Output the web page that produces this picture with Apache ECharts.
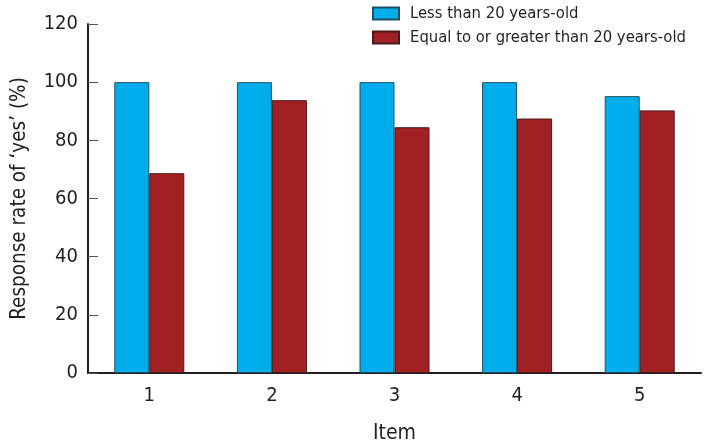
<!DOCTYPE html>
<html>
<head>
<meta charset="utf-8">
<script src="https://cdn.jsdelivr.net/npm/echarts@6/dist/echarts.min.js"></script>
<style>
  html, body { margin: 0; padding: 0; background: #fff; }
  #chart { width: 708px; height: 446px; }
</style>
</head>
<body>
<div id="chart"></div>
<script>
const items = ["1", "2", "3", "4", "5"];
const under20 = [100, 100, 100, 100, 95.2];
const over20 = [68.7, 93.8, 84.5, 87.5, 90.3];
const yTicks = { min: 0, max: 120, step: 20 };

const font = "'DejaVu Sans Condensed', 'Liberation Sans Narrow', sans-serif";
const ink = "#231f20";

const chart = echarts.init(document.getElementById("chart"));
chart.setOption({
  animation: false,
  textStyle: { fontFamily: font, color: ink },
  grid: { left: 88, right: 7, top: 24, bottom: 73, outerBoundsMode: "none", containLabel: false },
  legend: {
    orient: "vertical",
    left: 367,
    top: 0,
    itemWidth: 26,
    itemHeight: 12,
    itemGap: 7,
    icon: "rect",
    textStyle: { fontFamily: font, fontSize: 16.5, color: ink, padding: [0, 0, 0, 6] },
    data: ["Less than 20 years-old", "Equal to or greater than 20 years-old"],
  },
  xAxis: {
    type: "category",
    data: items,
    name: "Item",
    nameLocation: "middle",
    nameGap: 50,
    nameTextStyle: { fontFamily: font, fontSize: 21, color: ink },
    axisLine: { lineStyle: { color: ink, width: 2 } },
    axisTick: { inside: true, length: 10, lineStyle: { color: "#555", width: 1 } },
    axisLabel: { fontSize: 20, color: ink, margin: 13 },
  },
  yAxis: {
    type: "value",
    min: yTicks.min,
    max: yTicks.max,
    interval: yTicks.step,
    name: "Response rate of \u2018yes\u2019 (%)",
    nameLocation: "middle",
    nameGap: 58,
    nameTextStyle: { fontFamily: font, fontSize: 20.5, color: ink },
    axisLine: { show: true, lineStyle: { color: ink, width: 2 } },
    axisTick: { show: true, inside: true, length: 10, lineStyle: { color: "#555", width: 1 } },
    axisLabel: { fontSize: 20, color: ink, margin: 10 },
    splitLine: { show: false },
  },
  series: [
    {
      name: "Less than 20 years-old",
      type: "bar",
      data: under20,
      barWidth: 35,
      barGap: "0%",
      itemStyle: { color: "#00adeb", borderColor: "#1d4f66", borderWidth: 1 },
    },
    {
      name: "Equal to or greater than 20 years-old",
      type: "bar",
      data: over20,
      barWidth: 35,
      barGap: "0%",
      itemStyle: { color: "#a02023", borderColor: "#4a1a1a", borderWidth: 1 },
    },
  ],
});
</script>
</body>
</html>
